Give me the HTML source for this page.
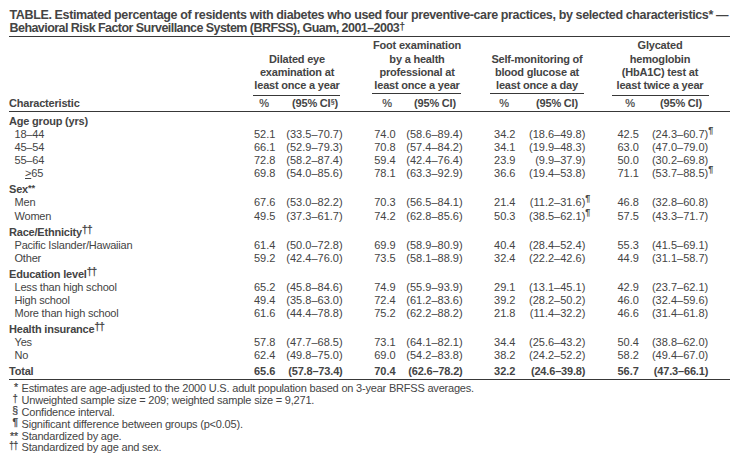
<!DOCTYPE html>
<html><head><meta charset="utf-8"><style>
html,body{margin:0;padding:0;background:#fff;}
body{width:744px;height:459px;position:relative;overflow:hidden;}
.t{position:absolute;white-space:nowrap;font-family:"Liberation Sans",sans-serif;line-height:12px;color:#444;}
.r{position:absolute;background:#383838;}
.dg{font-size:10px;font-weight:normal;-webkit-text-stroke:0.25px #444;position:relative;top:-3px;letter-spacing:-0.7px;margin-left:0px;}
.ss{font-size:7px;position:relative;top:-3px;margin-left:0.3px;}
sup{font-size:0.85em;vertical-align:0;position:relative;top:-0.2em;line-height:0;letter-spacing:0;}
.hang{position:absolute;left:100%;margin-left:0px;font-size:9px;font-weight:bold;top:-4px;}
.mk{font-size:0.95em;position:relative;top:-0.15em;-webkit-text-stroke:0.25px #444;}
u{text-decoration:underline;}
</style></head><body>
<div class="t" style="left:9.5px;top:9px;font-size:12.5px;letter-spacing:-0.37px;font-weight:bold;">TABLE. Estimated percentage of residents with diabetes who used four preventive-care practices, by selected characteristics* &mdash;</div>
<div class="t" style="left:9.5px;top:22px;font-size:12.5px;letter-spacing:-0.55px;font-weight:bold;">Behavioral Risk Factor Surveillance System (BRFSS), Guam, 2001&ndash;2003<sup>&dagger;</sup></div>
<div class="r" style="left:9px;width:721px;top:36px;height:1px"></div>
<div class="t" style="left:97px;width:400px;text-align:center;top:52.5px;font-size:11px;letter-spacing:-0.2px;font-weight:bold;">Dilated eye</div>
<div class="t" style="left:97px;width:400px;text-align:center;top:66px;font-size:11px;letter-spacing:-0.2px;font-weight:bold;">examination at</div>
<div class="t" style="left:97px;width:400px;text-align:center;top:79px;font-size:11px;letter-spacing:-0.2px;font-weight:bold;">least once a year</div>
<div class="r" style="left:253px;width:87px;top:95px;height:1px"></div>
<div class="t" style="left:64px;width:400px;text-align:center;top:97px;font-size:11px;letter-spacing:-0.2px;-webkit-text-stroke:0.2px #444;">%</div>
<div class="t" style="left:217px;width:400px;text-align:center;top:39px;font-size:11px;letter-spacing:-0.2px;font-weight:bold;">Foot examination</div>
<div class="t" style="left:217px;width:400px;text-align:center;top:52.5px;font-size:11px;letter-spacing:-0.2px;font-weight:bold;">by a health</div>
<div class="t" style="left:217px;width:400px;text-align:center;top:66px;font-size:11px;letter-spacing:-0.2px;font-weight:bold;">professional at</div>
<div class="t" style="left:217px;width:400px;text-align:center;top:79px;font-size:11px;letter-spacing:-0.2px;font-weight:bold;">least once a year</div>
<div class="r" style="left:372px;width:89px;top:93px;height:1px"></div>
<div class="t" style="left:187px;width:400px;text-align:center;top:97px;font-size:11px;letter-spacing:-0.2px;-webkit-text-stroke:0.2px #444;">%</div>
<div class="t" style="left:337px;width:400px;text-align:center;top:52.5px;font-size:11px;letter-spacing:-0.2px;font-weight:bold;">Self-monitoring of</div>
<div class="t" style="left:337px;width:400px;text-align:center;top:66px;font-size:11px;letter-spacing:-0.2px;font-weight:bold;">blood glucose at</div>
<div class="t" style="left:337px;width:400px;text-align:center;top:79px;font-size:11px;letter-spacing:-0.2px;font-weight:bold;">least once a day</div>
<div class="r" style="left:490px;width:94px;top:93px;height:1px"></div>
<div class="t" style="left:304px;width:400px;text-align:center;top:97px;font-size:11px;letter-spacing:-0.2px;-webkit-text-stroke:0.2px #444;">%</div>
<div class="t" style="left:460px;width:400px;text-align:center;top:39px;font-size:11px;letter-spacing:-0.2px;font-weight:bold;">Glycated</div>
<div class="t" style="left:460px;width:400px;text-align:center;top:52.5px;font-size:11px;letter-spacing:-0.2px;font-weight:bold;">hemoglobin</div>
<div class="t" style="left:460px;width:400px;text-align:center;top:66px;font-size:11px;letter-spacing:-0.2px;font-weight:bold;">(HbA1C) test at</div>
<div class="t" style="left:460px;width:400px;text-align:center;top:79px;font-size:11px;letter-spacing:-0.2px;font-weight:bold;">least twice a year</div>
<div class="r" style="left:612px;width:97px;top:95px;height:1px"></div>
<div class="t" style="left:430px;width:400px;text-align:center;top:97px;font-size:11px;letter-spacing:-0.2px;-webkit-text-stroke:0.2px #444;">%</div>
<div class="t" style="left:9px;top:97px;font-size:11px;letter-spacing:-0.2px;font-weight:bold;">Characteristic</div>
<div class="t" style="left:115px;width:400px;text-align:center;top:97px;font-size:11px;letter-spacing:-0.2px;font-weight:bold;">(95% CI<span class="ss">&sect;</span>)</div>
<div class="t" style="left:235px;width:400px;text-align:center;top:97px;font-size:11px;letter-spacing:-0.2px;font-weight:bold;">(95% CI)</div>
<div class="t" style="left:357px;width:400px;text-align:center;top:97px;font-size:11px;letter-spacing:-0.2px;font-weight:bold;">(95% CI)</div>
<div class="t" style="left:481px;width:400px;text-align:center;top:97px;font-size:11px;letter-spacing:-0.2px;font-weight:bold;">(95% CI)</div>
<div class="r" style="left:9px;width:721px;top:111px;height:1px"></div>
<div class="t" style="left:9px;top:115px;font-size:11px;letter-spacing:-0.2px;font-weight:bold;">Age group (yrs)</div>
<div class="t" style="left:14.5px;top:128px;font-size:11px;letter-spacing:-0.2px;">18&ndash;44</div>
<div class="t" style="right:468.6px;top:128px;font-size:11px;letter-spacing:0px;">52.1</div>
<div class="t" style="right:401.4px;top:128px;font-size:11px;letter-spacing:0px;">(33.5&ndash;70.7)</div>
<div class="t" style="right:348.4px;top:128px;font-size:11px;letter-spacing:0px;">74.0</div>
<div class="t" style="right:281.4px;top:128px;font-size:11px;letter-spacing:0px;">(58.6&ndash;89.4)</div>
<div class="t" style="right:228.5px;top:128px;font-size:11px;letter-spacing:0px;">34.2</div>
<div class="t" style="right:158.70000000000005px;top:128px;font-size:11px;letter-spacing:0px;">(18.6&ndash;49.8)</div>
<div class="t" style="right:105.20000000000005px;top:128px;font-size:11px;letter-spacing:0px;">42.5</div>
<div class="t" style="right:35.799999999999955px;top:128px;font-size:11px;letter-spacing:0px;">(24.3&ndash;60.7)<span class="hang">&para;</span></div>
<div class="t" style="left:14.5px;top:141px;font-size:11px;letter-spacing:-0.2px;">45&ndash;54</div>
<div class="t" style="right:468.6px;top:141px;font-size:11px;letter-spacing:0px;">66.1</div>
<div class="t" style="right:401.4px;top:141px;font-size:11px;letter-spacing:0px;">(52.9&ndash;79.3)</div>
<div class="t" style="right:348.4px;top:141px;font-size:11px;letter-spacing:0px;">70.8</div>
<div class="t" style="right:281.4px;top:141px;font-size:11px;letter-spacing:0px;">(57.4&ndash;84.2)</div>
<div class="t" style="right:228.5px;top:141px;font-size:11px;letter-spacing:0px;">34.1</div>
<div class="t" style="right:158.70000000000005px;top:141px;font-size:11px;letter-spacing:0px;">(19.9&ndash;48.3)</div>
<div class="t" style="right:105.20000000000005px;top:141px;font-size:11px;letter-spacing:0px;">63.0</div>
<div class="t" style="right:35.799999999999955px;top:141px;font-size:11px;letter-spacing:0px;">(47.0&ndash;79.0)</div>
<div class="t" style="left:14.5px;top:154px;font-size:11px;letter-spacing:-0.2px;">55&ndash;64</div>
<div class="t" style="right:468.6px;top:154px;font-size:11px;letter-spacing:0px;">72.8</div>
<div class="t" style="right:401.4px;top:154px;font-size:11px;letter-spacing:0px;">(58.2&ndash;87.4)</div>
<div class="t" style="right:348.4px;top:154px;font-size:11px;letter-spacing:0px;">59.4</div>
<div class="t" style="right:281.4px;top:154px;font-size:11px;letter-spacing:0px;">(42.4&ndash;76.4)</div>
<div class="t" style="right:228.5px;top:154px;font-size:11px;letter-spacing:0px;">23.9</div>
<div class="t" style="right:158.70000000000005px;top:154px;font-size:11px;letter-spacing:0px;">(9.9&ndash;37.9)</div>
<div class="t" style="right:105.20000000000005px;top:154px;font-size:11px;letter-spacing:0px;">50.0</div>
<div class="t" style="right:35.799999999999955px;top:154px;font-size:11px;letter-spacing:0px;">(30.2&ndash;69.8)</div>
<div class="t" style="left:14.5px;top:167px;font-size:11px;letter-spacing:-0.2px;"><span style="display:inline-block;width:10.5px"></span><u>&gt;</u>65</div>
<div class="t" style="right:468.6px;top:167px;font-size:11px;letter-spacing:0px;">69.8</div>
<div class="t" style="right:401.4px;top:167px;font-size:11px;letter-spacing:0px;">(54.0&ndash;85.6)</div>
<div class="t" style="right:348.4px;top:167px;font-size:11px;letter-spacing:0px;">78.1</div>
<div class="t" style="right:281.4px;top:167px;font-size:11px;letter-spacing:0px;">(63.3&ndash;92.9)</div>
<div class="t" style="right:228.5px;top:167px;font-size:11px;letter-spacing:0px;">36.6</div>
<div class="t" style="right:158.70000000000005px;top:167px;font-size:11px;letter-spacing:0px;">(19.4&ndash;53.8)</div>
<div class="t" style="right:105.20000000000005px;top:167px;font-size:11px;letter-spacing:0px;">71.1</div>
<div class="t" style="right:35.799999999999955px;top:167px;font-size:11px;letter-spacing:0px;">(53.7&ndash;88.5)<span class="hang">&para;</span></div>
<div class="t" style="left:9px;top:183px;font-size:11px;letter-spacing:-0.2px;font-weight:bold;">Sex<sup>**</sup></div>
<div class="t" style="left:14.5px;top:196px;font-size:11px;letter-spacing:-0.2px;">Men</div>
<div class="t" style="right:468.6px;top:196px;font-size:11px;letter-spacing:0px;">67.6</div>
<div class="t" style="right:401.4px;top:196px;font-size:11px;letter-spacing:0px;">(53.0&ndash;82.2)</div>
<div class="t" style="right:348.4px;top:196px;font-size:11px;letter-spacing:0px;">70.3</div>
<div class="t" style="right:281.4px;top:196px;font-size:11px;letter-spacing:0px;">(56.5&ndash;84.1)</div>
<div class="t" style="right:228.5px;top:196px;font-size:11px;letter-spacing:0px;">21.4</div>
<div class="t" style="right:158.70000000000005px;top:196px;font-size:11px;letter-spacing:0px;">(11.2&ndash;31.6)<span class="hang">&para;</span></div>
<div class="t" style="right:105.20000000000005px;top:196px;font-size:11px;letter-spacing:0px;">46.8</div>
<div class="t" style="right:35.799999999999955px;top:196px;font-size:11px;letter-spacing:0px;">(32.8&ndash;60.8)</div>
<div class="t" style="left:14.5px;top:210px;font-size:11px;letter-spacing:-0.2px;">Women</div>
<div class="t" style="right:468.6px;top:210px;font-size:11px;letter-spacing:0px;">49.5</div>
<div class="t" style="right:401.4px;top:210px;font-size:11px;letter-spacing:0px;">(37.3&ndash;61.7)</div>
<div class="t" style="right:348.4px;top:210px;font-size:11px;letter-spacing:0px;">74.2</div>
<div class="t" style="right:281.4px;top:210px;font-size:11px;letter-spacing:0px;">(62.8&ndash;85.6)</div>
<div class="t" style="right:228.5px;top:210px;font-size:11px;letter-spacing:0px;">50.3</div>
<div class="t" style="right:158.70000000000005px;top:210px;font-size:11px;letter-spacing:0px;">(38.5&ndash;62.1)<span class="hang">&para;</span></div>
<div class="t" style="right:105.20000000000005px;top:210px;font-size:11px;letter-spacing:0px;">57.5</div>
<div class="t" style="right:35.799999999999955px;top:210px;font-size:11px;letter-spacing:0px;">(43.3&ndash;71.7)</div>
<div class="t" style="left:9px;top:226px;font-size:11px;letter-spacing:-0.2px;font-weight:bold;">Race/Ethnicity<span class="dg">&dagger;&dagger;</span></div>
<div class="t" style="left:14.5px;top:239px;font-size:11px;letter-spacing:-0.2px;">Pacific Islander/Hawaiian</div>
<div class="t" style="right:468.6px;top:239px;font-size:11px;letter-spacing:0px;">61.4</div>
<div class="t" style="right:401.4px;top:239px;font-size:11px;letter-spacing:0px;">(50.0&ndash;72.8)</div>
<div class="t" style="right:348.4px;top:239px;font-size:11px;letter-spacing:0px;">69.9</div>
<div class="t" style="right:281.4px;top:239px;font-size:11px;letter-spacing:0px;">(58.9&ndash;80.9)</div>
<div class="t" style="right:228.5px;top:239px;font-size:11px;letter-spacing:0px;">40.4</div>
<div class="t" style="right:158.70000000000005px;top:239px;font-size:11px;letter-spacing:0px;">(28.4&ndash;52.4)</div>
<div class="t" style="right:105.20000000000005px;top:239px;font-size:11px;letter-spacing:0px;">55.3</div>
<div class="t" style="right:35.799999999999955px;top:239px;font-size:11px;letter-spacing:0px;">(41.5&ndash;69.1)</div>
<div class="t" style="left:14.5px;top:252px;font-size:11px;letter-spacing:-0.2px;">Other</div>
<div class="t" style="right:468.6px;top:252px;font-size:11px;letter-spacing:0px;">59.2</div>
<div class="t" style="right:401.4px;top:252px;font-size:11px;letter-spacing:0px;">(42.4&ndash;76.0)</div>
<div class="t" style="right:348.4px;top:252px;font-size:11px;letter-spacing:0px;">73.5</div>
<div class="t" style="right:281.4px;top:252px;font-size:11px;letter-spacing:0px;">(58.1&ndash;88.9)</div>
<div class="t" style="right:228.5px;top:252px;font-size:11px;letter-spacing:0px;">32.4</div>
<div class="t" style="right:158.70000000000005px;top:252px;font-size:11px;letter-spacing:0px;">(22.2&ndash;42.6)</div>
<div class="t" style="right:105.20000000000005px;top:252px;font-size:11px;letter-spacing:0px;">44.9</div>
<div class="t" style="right:35.799999999999955px;top:252px;font-size:11px;letter-spacing:0px;">(31.1&ndash;58.7)</div>
<div class="t" style="left:9px;top:268px;font-size:11px;letter-spacing:-0.2px;font-weight:bold;">Education level<span class="dg">&dagger;&dagger;</span></div>
<div class="t" style="left:14.5px;top:281px;font-size:11px;letter-spacing:-0.2px;">Less than high school</div>
<div class="t" style="right:468.6px;top:281px;font-size:11px;letter-spacing:0px;">65.2</div>
<div class="t" style="right:401.4px;top:281px;font-size:11px;letter-spacing:0px;">(45.8&ndash;84.6)</div>
<div class="t" style="right:348.4px;top:281px;font-size:11px;letter-spacing:0px;">74.9</div>
<div class="t" style="right:281.4px;top:281px;font-size:11px;letter-spacing:0px;">(55.9&ndash;93.9)</div>
<div class="t" style="right:228.5px;top:281px;font-size:11px;letter-spacing:0px;">29.1</div>
<div class="t" style="right:158.70000000000005px;top:281px;font-size:11px;letter-spacing:0px;">(13.1&ndash;45.1)</div>
<div class="t" style="right:105.20000000000005px;top:281px;font-size:11px;letter-spacing:0px;">42.9</div>
<div class="t" style="right:35.799999999999955px;top:281px;font-size:11px;letter-spacing:0px;">(23.7&ndash;62.1)</div>
<div class="t" style="left:14.5px;top:294px;font-size:11px;letter-spacing:-0.2px;">High school</div>
<div class="t" style="right:468.6px;top:294px;font-size:11px;letter-spacing:0px;">49.4</div>
<div class="t" style="right:401.4px;top:294px;font-size:11px;letter-spacing:0px;">(35.8&ndash;63.0)</div>
<div class="t" style="right:348.4px;top:294px;font-size:11px;letter-spacing:0px;">72.4</div>
<div class="t" style="right:281.4px;top:294px;font-size:11px;letter-spacing:0px;">(61.2&ndash;83.6)</div>
<div class="t" style="right:228.5px;top:294px;font-size:11px;letter-spacing:0px;">39.2</div>
<div class="t" style="right:158.70000000000005px;top:294px;font-size:11px;letter-spacing:0px;">(28.2&ndash;50.2)</div>
<div class="t" style="right:105.20000000000005px;top:294px;font-size:11px;letter-spacing:0px;">46.0</div>
<div class="t" style="right:35.799999999999955px;top:294px;font-size:11px;letter-spacing:0px;">(32.4&ndash;59.6)</div>
<div class="t" style="left:14.5px;top:307px;font-size:11px;letter-spacing:-0.2px;">More than high school</div>
<div class="t" style="right:468.6px;top:307px;font-size:11px;letter-spacing:0px;">61.6</div>
<div class="t" style="right:401.4px;top:307px;font-size:11px;letter-spacing:0px;">(44.4&ndash;78.8)</div>
<div class="t" style="right:348.4px;top:307px;font-size:11px;letter-spacing:0px;">75.2</div>
<div class="t" style="right:281.4px;top:307px;font-size:11px;letter-spacing:0px;">(62.2&ndash;88.2)</div>
<div class="t" style="right:228.5px;top:307px;font-size:11px;letter-spacing:0px;">21.8</div>
<div class="t" style="right:158.70000000000005px;top:307px;font-size:11px;letter-spacing:0px;">(11.4&ndash;32.2)</div>
<div class="t" style="right:105.20000000000005px;top:307px;font-size:11px;letter-spacing:0px;">46.6</div>
<div class="t" style="right:35.799999999999955px;top:307px;font-size:11px;letter-spacing:0px;">(31.4&ndash;61.8)</div>
<div class="t" style="left:9px;top:323px;font-size:11px;letter-spacing:-0.2px;font-weight:bold;">Health insurance<span class="dg">&dagger;&dagger;</span></div>
<div class="t" style="left:14.5px;top:336px;font-size:11px;letter-spacing:-0.2px;">Yes</div>
<div class="t" style="right:468.6px;top:336px;font-size:11px;letter-spacing:0px;">57.8</div>
<div class="t" style="right:401.4px;top:336px;font-size:11px;letter-spacing:0px;">(47.7&ndash;68.5)</div>
<div class="t" style="right:348.4px;top:336px;font-size:11px;letter-spacing:0px;">73.1</div>
<div class="t" style="right:281.4px;top:336px;font-size:11px;letter-spacing:0px;">(64.1&ndash;82.1)</div>
<div class="t" style="right:228.5px;top:336px;font-size:11px;letter-spacing:0px;">34.4</div>
<div class="t" style="right:158.70000000000005px;top:336px;font-size:11px;letter-spacing:0px;">(25.6&ndash;43.2)</div>
<div class="t" style="right:105.20000000000005px;top:336px;font-size:11px;letter-spacing:0px;">50.4</div>
<div class="t" style="right:35.799999999999955px;top:336px;font-size:11px;letter-spacing:0px;">(38.8&ndash;62.0)</div>
<div class="t" style="left:14.5px;top:349px;font-size:11px;letter-spacing:-0.2px;">No</div>
<div class="t" style="right:468.6px;top:349px;font-size:11px;letter-spacing:0px;">62.4</div>
<div class="t" style="right:401.4px;top:349px;font-size:11px;letter-spacing:0px;">(49.8&ndash;75.0)</div>
<div class="t" style="right:348.4px;top:349px;font-size:11px;letter-spacing:0px;">69.0</div>
<div class="t" style="right:281.4px;top:349px;font-size:11px;letter-spacing:0px;">(54.2&ndash;83.8)</div>
<div class="t" style="right:228.5px;top:349px;font-size:11px;letter-spacing:0px;">38.2</div>
<div class="t" style="right:158.70000000000005px;top:349px;font-size:11px;letter-spacing:0px;">(24.2&ndash;52.2)</div>
<div class="t" style="right:105.20000000000005px;top:349px;font-size:11px;letter-spacing:0px;">58.2</div>
<div class="t" style="right:35.799999999999955px;top:349px;font-size:11px;letter-spacing:0px;">(49.4&ndash;67.0)</div>
<div class="t" style="left:9px;top:365px;font-size:11px;letter-spacing:-0.2px;font-weight:bold;">Total</div>
<div class="t" style="right:468.6px;top:365px;font-size:11px;letter-spacing:0px;font-weight:bold;">65.6</div>
<div class="t" style="right:401.4px;top:365px;font-size:11px;letter-spacing:-0.17px;font-weight:bold;">(57.8&ndash;73.4)</div>
<div class="t" style="right:348.4px;top:365px;font-size:11px;letter-spacing:0px;font-weight:bold;">70.4</div>
<div class="t" style="right:281.4px;top:365px;font-size:11px;letter-spacing:-0.17px;font-weight:bold;">(62.6&ndash;78.2)</div>
<div class="t" style="right:228.5px;top:365px;font-size:11px;letter-spacing:0px;font-weight:bold;">32.2</div>
<div class="t" style="right:158.70000000000005px;top:365px;font-size:11px;letter-spacing:-0.17px;font-weight:bold;">(24.6&ndash;39.8)</div>
<div class="t" style="right:105.20000000000005px;top:365px;font-size:11px;letter-spacing:0px;font-weight:bold;">56.7</div>
<div class="t" style="right:35.799999999999955px;top:365px;font-size:11px;letter-spacing:-0.17px;font-weight:bold;">(47.3&ndash;66.1)</div>
<div class="r" style="left:9px;width:721px;top:379px;height:1px"></div>
<div class="t" style="right:726px;top:382px;font-size:11px;letter-spacing:0px;"><span class="mk" style="top:-0.05em">*</span></div>
<div class="t" style="left:21.5px;top:382px;font-size:11px;letter-spacing:-0.2px;">Estimates are age-adjusted to the 2000 U.S. adult population based on 3-year BRFSS averages.</div>
<div class="t" style="right:726px;top:394px;font-size:11px;letter-spacing:0px;"><span class="mk" style="display:inline-block;transform:scaleX(0.85);transform-origin:100% 50%">&dagger;</span></div>
<div class="t" style="left:21.5px;top:394px;font-size:11px;letter-spacing:-0.2px;">Unweighted sample size = 209; weighted sample size = 9,271.</div>
<div class="t" style="right:726px;top:406px;font-size:11px;letter-spacing:0px;"><span class="mk" style="">&sect;</span></div>
<div class="t" style="left:21.5px;top:406px;font-size:11px;letter-spacing:-0.2px;">Confidence interval.</div>
<div class="t" style="right:726px;top:417.5px;font-size:11px;letter-spacing:0px;"><span class="mk" style="">&para;</span></div>
<div class="t" style="left:21.5px;top:417.5px;font-size:11px;letter-spacing:-0.2px;">Significant difference between groups (p&lt;0.05).</div>
<div class="t" style="right:726px;top:429.5px;font-size:11px;letter-spacing:0px;"><span class="mk" style="top:0.05em">**</span></div>
<div class="t" style="left:21.5px;top:429.5px;font-size:11px;letter-spacing:-0.2px;">Standardized by age.</div>
<div class="t" style="right:726px;top:440.5px;font-size:11px;letter-spacing:0px;"><span class="mk" style="display:inline-block;transform:scaleX(0.8);transform-origin:100% 50%;letter-spacing:-0.3px">&dagger;&dagger;</span></div>
<div class="t" style="left:21.5px;top:440.5px;font-size:11px;letter-spacing:-0.2px;">Standardized by age and sex.</div>
</body></html>
